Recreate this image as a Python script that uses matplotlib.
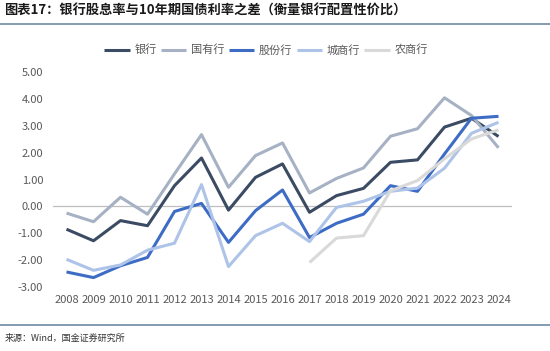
import matplotlib
matplotlib.use("Agg")
import matplotlib.pyplot as plt
import numpy as np

plt.rcParams['font.family'] = ['Noto Sans CJK SC', 'DejaVu Sans']

years = list(range(2008, 2025))
labels = ["银行", "国有行", "股份行", "城商行", "农商行"]

bank = [-0.85, -1.28, -0.53, -0.72, 0.77, 1.80, -0.14, 1.08, 1.58, -0.22, 0.40, 0.67, 1.64, 1.73, 2.95, 3.28, 2.60]
state = [-0.25, -0.57, 0.34, -0.29, 1.21, 2.67, 0.71, 1.89, 2.36, 0.50, 1.04, 1.43, 2.61, 2.89, 4.04, 3.38, 2.18]
joint = [-2.44, -2.65, -2.21, -1.90, -0.19, 0.11, -1.34, -0.16, 0.61, -1.16, -0.63, -0.29, 0.77, 0.56, 1.95, 3.28, 3.35]
city = [-1.97, -2.38, -2.18, -1.63, -1.37, 0.81, -2.24, -1.09, -0.63, -1.31, -0.04, 0.19, 0.56, 0.68, 1.42, 2.72, 3.13]
rural_years = list(range(2017, 2025))
rural = [-2.09, -1.18, -1.09, 0.58, 0.96, 1.77, 2.51, 2.85]

colors = ["#3b4b63", "#a6b1c4", "#3d6cc5", "#aec3e8", "#d9d9d9"]

fig = plt.figure(figsize=(5.5, 3.51), dpi=100)
ax = fig.add_axes([53/550, 1 - 287/351, (512-53)/550, (287-72)/351])

series = [(years, bank), (years, state), (years, joint), (years, city), (rural_years, rural)]
for (xs, ys), lab, c in zip(series, labels, colors):
    ax.plot(xs, ys, color=c, lw=2.2, label=lab, solid_capstyle='butt')

ax.axhline(0, color="#bfbfbf", lw=0.9, zorder=0)
ax.set_xlim(2007.5, 2024.5)
ax.set_ylim(-3, 5)
ax.set_yticks(np.arange(-3, 6, 1))
ax.set_yticklabels(["%.2f" % v for v in np.arange(-3, 6, 1)])
ax.set_xticks(years)
ax.set_xticklabels([str(y) for y in years])
for s in ax.spines.values():
    s.set_visible(False)
ax.tick_params(length=0, colors="#595959", labelsize=8)
ax.tick_params(axis='y', pad=7)
ax.tick_params(axis='x', pad=6)

fig.legend(loc='center', bbox_to_anchor=(266/550, 1 - 50/351), ncol=5, frameon=False,
           fontsize=8, labelcolor="#595959", handlelength=2.3, handletextpad=0.4,
           columnspacing=0.4)

fig.text(0.008, 1 - 11/351, "图表17：银行股息率与10年期国债利率之差（衡量银行配置性价比）",
         fontsize=9.5, fontweight='bold', style='italic', va='center', color="#1a1a1a")
fig.add_artist(plt.Line2D([0, 1], [1 - 24/351, 1 - 24/351], color="#6d8ba6", lw=1.2))
fig.add_artist(plt.Line2D([0, 1], [1 - 325/351, 1 - 325/351], color="#6d8ba6", lw=1.2))
fig.text(0.008, 1 - 338/351, "来源：Wind，国金证券研究所", fontsize=6.5, va='center', color="#333333")

fig.savefig("out.png", dpi=100, facecolor="white")
